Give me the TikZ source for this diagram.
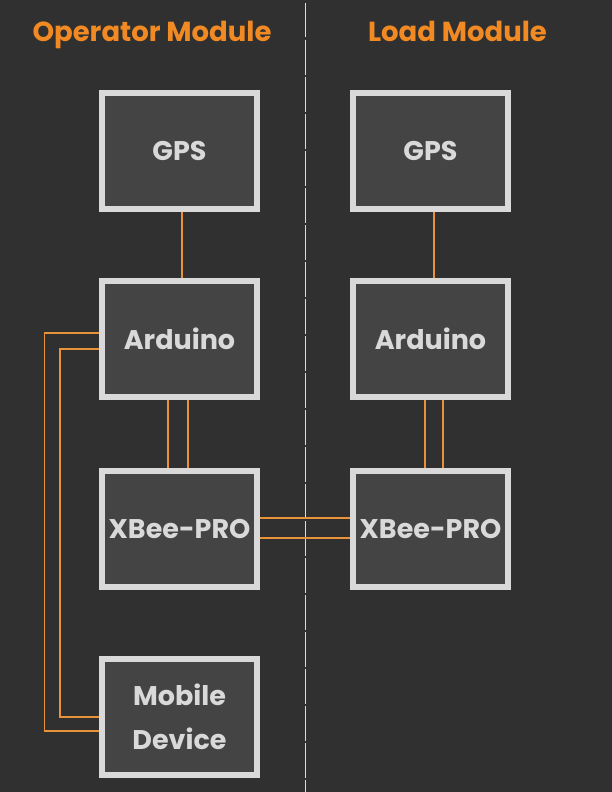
\documentclass[tikz,border=0pt]{standalone}
\usepackage{fontspec}
\setmainfont{Poppins}
\definecolor{bg}{HTML}{303030}
\definecolor{boxfill}{HTML}{444444}
\definecolor{boxline}{HTML}{D9D9D9}
\definecolor{wire}{HTML}{E8923A}
\definecolor{title}{HTML}{F28A24}
\begin{document}
\begin{tikzpicture}[x=1pt,y=-1pt,
  modbox/.style={draw=boxline,fill=boxfill,line width=6pt,minimum width=155pt,minimum height=116pt,
    text=boxline,font=\fontsize{27}{44}\selectfont\bfseries,align=center,inner sep=0pt},
  ttl/.style={text=title,font=\fontsize{27.5}{30}\selectfont\bfseries,anchor=base,inner sep=0pt},
  wirel/.style={draw=wire,line width=1.1pt}]
\fill[bg] (0,0) rectangle (612,792);
\useasboundingbox (0,0) rectangle (612,792);
% divider
\coordinate (dtop) at (305.5,3);
\coordinate (dbot) at (305.5,792);
\draw[boxline,line width=1.1pt,dash pattern=on 34.5pt off 2.5pt] (dtop) -- (dbot);
% titles
\node[ttl] (t1) at (152,41.5) {Operator Module};
\node[ttl] (t2) at (457.5,41.5) {Load Module};
% boxes
\node[modbox] (gpsL) at (179.5,151) {GPS};
\node[modbox] (ardL) at (179.5,339) {Arduino};
\node[modbox] (xbL) at (179.5,529) {XBee-PRO};
\node[modbox] (mob) at (179.5,717) {Mobile\\Device};
\node[modbox] (gpsR) at (430.5,151) {GPS};
\node[modbox] (ardR) at (430.5,339) {Arduino};
\node[modbox] (xbR) at (430.5,529) {XBee-PRO};
% wires
\draw[wirel] ([xshift=2.5pt]gpsL.south) -- ([xshift=2.5pt]ardL.north);
\draw[wirel] ([xshift=3.5pt]gpsR.south) -- ([xshift=3.5pt]ardR.north);
\draw[wirel] ([xshift=-11.5pt]ardL.south) -- ([xshift=-11.5pt]xbL.north);
\draw[wirel] ([xshift=8.5pt]ardL.south) -- ([xshift=8.5pt]xbL.north);
\draw[wirel] ([xshift=-5.5pt]ardR.south) -- ([xshift=-5.5pt]xbR.north);
\draw[wirel] ([xshift=12.5pt]ardR.south) -- ([xshift=12.5pt]xbR.north);
\draw[wirel] ([yshift=11pt]xbL.east) -- ([yshift=11pt]xbR.west);
\draw[wirel] ([yshift=-9pt]xbL.east) -- ([yshift=-9pt]xbR.west);
\draw[wirel] ([yshift=6pt]ardL.west) -| (44.5,731) -- ([yshift=-14pt]mob.west);
\draw[wirel] ([yshift=-10pt]ardL.west) -| (60,717) -- (mob.west);
\end{tikzpicture}
\end{document}
